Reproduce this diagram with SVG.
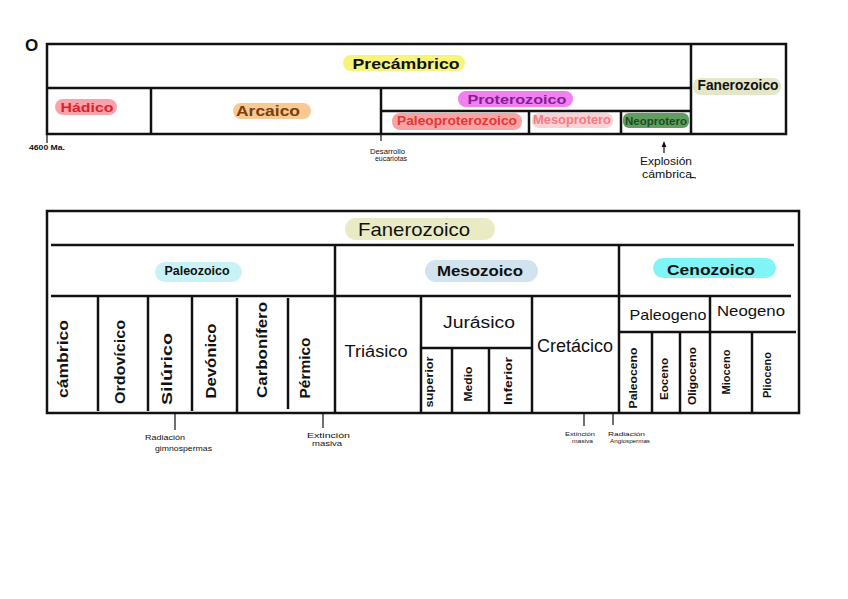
<svg xmlns="http://www.w3.org/2000/svg" width="848" height="599" viewBox="0 0 848 599">
<style>
.cell{fill:#fff;stroke:#111;stroke-width:2.5}
.ln{stroke:#111;stroke-width:2.5;fill:none}
.tk{stroke:#111;stroke-width:1.2;fill:none}
text{font-family:"Liberation Sans","DejaVu Sans",sans-serif;fill:#111}
.b{font-weight:bold}
.c{text-anchor:middle;dominant-baseline:central}
.sm{font-size:7px}
.v{font-size:14px;font-weight:bold}
</style>
<defs>
<marker id="ah" viewBox="0 0 10 10" refX="5" refY="5" markerWidth="5" markerHeight="5" orient="auto">
<path d="M0,1 L10,5 L0,9 Z" fill="#111"/>
</marker>
</defs>
<rect width="848" height="599" fill="#fff"/>
<text x="25" y="51" class="b" font-size="17">O</text>

<!-- TOP TABLE -->
<g id="top-table">
<rect class="cell" x="47" y="44" width="739" height="90"/>
<g id="precambrico">
<line class="ln" x1="47" y1="88" x2="691" y2="88"/>
<rect x="343" y="55" width="122" height="16" rx="8" fill="#f8f47a"/>
<text x="406" y="63" class="b c" font-size="15" textLength="107" lengthAdjust="spacingAndGlyphs">Precámbrico</text>
</g>
<g id="fanerozoico-top">
<line class="ln" x1="691" y1="44" x2="691" y2="134"/>
<rect x="693" y="78" width="88" height="17" rx="8" fill="#e4e6c8"/>
<text x="738" y="85" class="b c" font-size="14" textLength="81" lengthAdjust="spacingAndGlyphs">Fanerozoico</text>
</g>
<g id="hadico">
<line class="ln" x1="151" y1="88" x2="151" y2="134"/>
<rect x="55" y="99" width="62" height="16" rx="8" fill="#f8a3ab"/>
<text x="87" y="107" class="b c" font-size="13" fill="#e0202c" style="fill:#e0202c" textLength="53" lengthAdjust="spacingAndGlyphs">Hádico</text>
</g>
<g id="arcaico">
<line class="ln" x1="381" y1="88" x2="381" y2="134"/>
<rect x="233" y="103" width="78" height="16" rx="8" fill="#f8c992"/>
<text x="268" y="111" class="b c" font-size="14" style="fill:#7a3f0c" textLength="64" lengthAdjust="spacingAndGlyphs">Arcaico</text>
</g>
<g id="proterozoico">
<line class="ln" x1="381" y1="111" x2="691" y2="111"/>
<rect x="458" y="91" width="115" height="16" rx="8" fill="#ee80f0"/>
<text x="517" y="99" class="b c" font-size="13" style="fill:#8a1a96" textLength="99" lengthAdjust="spacingAndGlyphs">Proterozoico</text>
</g>
<g id="paleoproterozoico">
<rect x="392" y="113" width="130" height="17" rx="8" fill="#f8a4a4"/>
<text x="457" y="121" class="b c" font-size="12" style="fill:#e63636" textLength="120" lengthAdjust="spacingAndGlyphs">Paleoproterozoico</text>
</g>
<g id="mesoprotero">
<line class="ln" x1="529" y1="111" x2="529" y2="134"/>
<rect x="532" y="113" width="81" height="15" rx="7" fill="#fcd2d4"/>
<text x="572" y="120" class="b c" font-size="12" style="fill:#f47c84" textLength="78" lengthAdjust="spacingAndGlyphs">Mesoprotero</text>
</g>
<g id="neoprotero">
<line class="ln" x1="621" y1="111" x2="621" y2="134"/>
<rect x="623" y="113" width="66" height="15" rx="6" fill="#5f9e5f"/>
<text x="656" y="121" class="b c" font-size="11" style="fill:#1a4d1e" textLength="62" lengthAdjust="spacingAndGlyphs">Neoprotero</text>
</g>
</g>

<!-- BOTTOM TABLE -->
<g id="bottom-table">
<rect class="cell" x="47" y="211" width="752" height="202"/>
<g id="fanerozoico">
<line class="ln" x1="51" y1="245" x2="794" y2="245"/>
<rect x="345" y="218" width="150" height="22" rx="11" fill="#e9ebc4"/>
<text x="414" y="229" class="c" font-size="19" textLength="112" lengthAdjust="spacingAndGlyphs">Fanerozoico</text>
</g>
<g id="paleozoico">
<line class="ln" x1="51" y1="296" x2="335" y2="296"/>
<line class="ln" x1="335" y1="245" x2="335" y2="413"/>
<rect x="155" y="262" width="87" height="20" rx="10" fill="#c8f1f8"/>
<text x="197" y="271" class="b c" font-size="12" textLength="65" lengthAdjust="spacingAndGlyphs">Paleozoico</text>
</g>
<g id="mesozoico">
<line class="ln" x1="335" y1="296" x2="619" y2="296"/>
<line class="ln" x1="619" y1="245" x2="619" y2="413"/>
<rect x="425" y="260" width="113" height="22" rx="11" fill="#d0e3ee"/>
<text x="480" y="271" class="b c" font-size="14" textLength="86" lengthAdjust="spacingAndGlyphs">Mesozoico</text>
</g>
<g id="cenozoico">
<line class="ln" x1="619" y1="296" x2="791" y2="296"/>
<rect x="653" y="258" width="123" height="20" rx="10" fill="#7ff5f8"/>
<text x="711" y="269" class="b c" font-size="15" textLength="88" lengthAdjust="spacingAndGlyphs">Cenozoico</text>
</g>

<!-- Paleozoic periods -->
<g id="cambrico">
<line class="ln" x1="98" y1="296" x2="98" y2="411"/>
<text transform="translate(63,359) rotate(-90)" class="v c" textLength="78" lengthAdjust="spacingAndGlyphs">cámbrico</text>
</g>
<g id="ordovicico">
<line class="ln" x1="148" y1="296" x2="148" y2="411"/>
<text transform="translate(120,362) rotate(-90)" class="v c" textLength="84" lengthAdjust="spacingAndGlyphs">Ordovícico</text>
</g>
<g id="silurico">
<line class="ln" x1="192" y1="296" x2="192" y2="411"/>
<text transform="translate(167,369) rotate(-90)" class="v c" textLength="72" lengthAdjust="spacingAndGlyphs">Silúrico</text>
</g>
<g id="devonico">
<line class="ln" x1="237" y1="298" x2="237" y2="413"/>
<text transform="translate(211,361) rotate(-90)" class="v c" textLength="75" lengthAdjust="spacingAndGlyphs">Devónico</text>
</g>
<g id="carbonifero">
<line class="ln" x1="288" y1="298" x2="288" y2="409"/>
<text transform="translate(262,350) rotate(-90)" class="v c" textLength="96" lengthAdjust="spacingAndGlyphs">Carbonífero</text>
</g>
<g id="permico">
<text transform="translate(305,368) rotate(-90)" class="v c" textLength="61" lengthAdjust="spacingAndGlyphs">Pérmico</text>
</g>

<!-- Mesozoic periods -->
<g id="triasico">
<line class="ln" x1="421" y1="296" x2="421" y2="413"/>
<text x="376" y="351" class="c" font-size="16" textLength="63" lengthAdjust="spacingAndGlyphs">Triásico</text>
</g>
<g id="jurasico">
<line class="ln" x1="532" y1="296" x2="532" y2="413"/>
<line class="ln" x1="421" y1="348" x2="532" y2="348"/>
<text x="479" y="322" class="c" font-size="16" textLength="72" lengthAdjust="spacingAndGlyphs">Jurásico</text>
</g>
<g id="superior">
<line class="ln" x1="452" y1="348" x2="452" y2="413"/>
<text transform="translate(429,382) rotate(-90)" class="c b" font-size="10" textLength="51" lengthAdjust="spacingAndGlyphs">superior</text>
</g>
<g id="medio">
<line class="ln" x1="489" y1="348" x2="489" y2="413"/>
<text transform="translate(468,384) rotate(-90)" class="c b" font-size="10" textLength="35" lengthAdjust="spacingAndGlyphs">Medio</text>
</g>
<g id="inferior">
<text transform="translate(508,381) rotate(-90)" class="c b" font-size="11" textLength="48" lengthAdjust="spacingAndGlyphs">Inferior</text>
</g>
<g id="cretacico">
<text x="575" y="346" class="c" font-size="18" textLength="76" lengthAdjust="spacingAndGlyphs">Cretácico</text>
</g>

<!-- Cenozoic periods -->
<g id="paleogeno">
<line class="ln" x1="619" y1="332" x2="796" y2="332"/>
<line class="ln" x1="710" y1="296" x2="710" y2="413"/>
<text x="668" y="314" class="c" font-size="15" textLength="77" lengthAdjust="spacingAndGlyphs">Paleogeno</text>
</g>
<g id="neogeno">
<text x="751" y="310" class="c" font-size="15" textLength="68" lengthAdjust="spacingAndGlyphs">Neogeno</text>
</g>
<g id="paleoceno">
<line class="ln" x1="652" y1="332" x2="652" y2="413"/>
<text transform="translate(633,378) rotate(-90)" class="c b" font-size="11" textLength="61" lengthAdjust="spacingAndGlyphs">Paleoceno</text>
</g>
<g id="eoceno">
<line class="ln" x1="680" y1="332" x2="680" y2="413"/>
<text transform="translate(664,379) rotate(-90)" class="c b" font-size="10" textLength="42" lengthAdjust="spacingAndGlyphs">Eoceno</text>
</g>
<g id="oligoceno">
<text transform="translate(692,376) rotate(-90)" class="c b" font-size="10" textLength="58" lengthAdjust="spacingAndGlyphs">Oligoceno</text>
</g>
<g id="mioceno">
<line class="ln" x1="752" y1="332" x2="752" y2="413"/>
<text transform="translate(726,372) rotate(-90)" class="c b" font-size="10" textLength="45" lengthAdjust="spacingAndGlyphs">Mioceno</text>
</g>
<g id="plioceno">
<text transform="translate(767,375) rotate(-90)" class="c b" font-size="11" textLength="46" lengthAdjust="spacingAndGlyphs">Plioceno</text>
</g>
</g>

<!-- CONNECTORS -->
<g id="connectors">
<line class="tk" x1="47" y1="134" x2="47" y2="143"/>
<line class="tk" x1="381" y1="134" x2="381" y2="141"/>
<line class="tk" x1="664" y1="153" x2="664" y2="144" marker-end="url(#ah)"/>
<line class="tk" x1="175" y1="413" x2="175" y2="430"/>
<line class="tk" x1="323" y1="413" x2="323" y2="428"/>
<line class="tk" x1="584" y1="413" x2="584" y2="426"/>
<line class="tk" x1="613" y1="413" x2="613" y2="425"/>
<path class="tk" d="M690,178 q3,-1 6,0" />
</g>

<!-- ANNOTATIONS -->
<g id="annotations">
<text x="29" y="150" class="sm b" textLength="36" lengthAdjust="spacingAndGlyphs">4600 Ma.</text>
<text x="370" y="154" font-size="8" textLength="35" lengthAdjust="spacingAndGlyphs">Desarrollo</text>
<text x="375" y="161" class="sm" textLength="32" lengthAdjust="spacingAndGlyphs">eucariotas</text>
<text x="640" y="165" font-size="10" textLength="52" lengthAdjust="spacingAndGlyphs">Explosión</text>
<text x="642" y="178" font-size="10" textLength="50" lengthAdjust="spacingAndGlyphs">cámbrica</text>
<text x="145" y="440" font-size="8" textLength="40" lengthAdjust="spacingAndGlyphs">Radiación</text>
<text x="155" y="451" class="sm" textLength="57" lengthAdjust="spacingAndGlyphs">gimnospermas</text>
<text x="307" y="438" font-size="8" textLength="43" lengthAdjust="spacingAndGlyphs">Extinción</text>
<text x="312" y="446" class="sm" textLength="30" lengthAdjust="spacingAndGlyphs">masiva</text>
<text x="565" y="436" font-size="6" textLength="30" lengthAdjust="spacingAndGlyphs">Extinción</text>
<text x="572" y="443" font-size="6" textLength="21" lengthAdjust="spacingAndGlyphs">masiva</text>
<text x="608" y="436" font-size="6" textLength="37" lengthAdjust="spacingAndGlyphs">Radiación</text>
<text x="610" y="443" font-size="6" textLength="40" lengthAdjust="spacingAndGlyphs">Angiospermas</text>
</g>
</svg>
